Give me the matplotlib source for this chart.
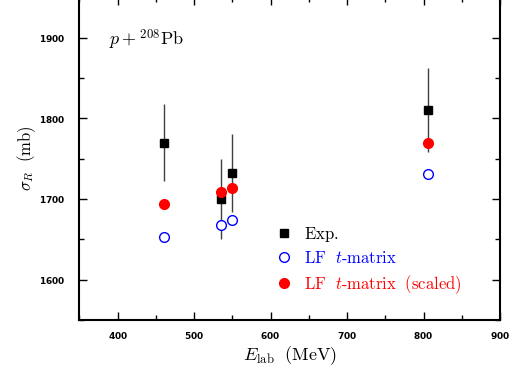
import matplotlib
matplotlib.use("Agg")
import matplotlib.pyplot as plt
from matplotlib.ticker import MultipleLocator

plt.rcParams['mathtext.fontset'] = 'cm'
plt.rcParams['axes.formatter.use_mathtext'] = True

# data
energy = [460, 535, 550, 806]
exp_sigma = [1770, 1700, 1732, 1810]
exp_err = [48, 50, 48, 52]
lf_sigma = [1653, 1668, 1674, 1731]
lf_scaled = [1694, 1709, 1714, 1770]
xticks = [400, 500, 600, 700, 800, 900]
yticks = [1600, 1700, 1800, 1900]

fig = plt.figure(figsize=(5.32, 3.72), dpi=100)
ax = fig.add_axes([0.1494, 0.1398, 0.7904, 0.8675])

ax.errorbar(energy, exp_sigma, yerr=exp_err, fmt='none', ecolor='0.25', elinewidth=1.0,
            capsize=0, zorder=2)
h1, = ax.plot(energy, exp_sigma, 's', color='black', markersize=6.2, linestyle='none', zorder=3)
h2, = ax.plot(energy, lf_sigma, 'o', mfc='white', mec='blue', mew=1.0, markersize=7,
              linestyle='none', zorder=4)
h3, = ax.plot(energy, lf_scaled, 'o', color='red', markersize=7, linestyle='none', zorder=5)

ax.set_xlim(350, 900)
ax.set_ylim(1550, 1950)
ax.set_xticks(xticks)
ax.set_yticks(yticks)
ax.xaxis.set_minor_locator(MultipleLocator(50))
ax.yaxis.set_minor_locator(MultipleLocator(50))
ax.tick_params(which='both', direction='in', top=True, right=True, width=1.0)
ax.tick_params(which='major', length=6)
ax.tick_params(which='minor', length=3.5)
for lab in ax.get_xticklabels() + ax.get_yticklabels():
    lab.set_fontfamily('DejaVu Sans')
    lab.set_fontweight('bold')
    lab.set_fontsize(6.5)
ax.tick_params(axis='x', pad=7.5)
ax.tick_params(axis='y', pad=10)
for s in ax.spines.values():
    s.set_linewidth(1.5)

ax.set_xlabel(r'$E_{\rm lab}\ \ (\mathrm{MeV})$', fontsize=13, labelpad=2)
ax.set_ylabel(r'$\sigma_R\ \ (\mathrm{mb})$', fontsize=12, labelpad=0.5)

ax.text(389, 1897, r'$p+{}^{208}\mathrm{Pb}$', fontsize=13, va='center', ha='left')

leg = ax.legend([h1, h2, h3],
                [r'$\mathrm{Exp.}$', r'$\mathrm{LF}\ \ t\text{-}\mathrm{matrix}$',
                 r'$\mathrm{LF}\ \ t\text{-}\mathrm{matrix\ \ (scaled)}$'],
                loc='upper left', bbox_to_anchor=(0.467, 0.295), frameon=False,
                handlelength=1.0, handletextpad=0.7, borderpad=0, borderaxespad=0,
                labelspacing=0.33, fontsize=12)
for t, c in zip(leg.get_texts(), ['black', 'blue', 'red']):
    t.set_color(c)

fig.savefig('out.png', dpi=100)
